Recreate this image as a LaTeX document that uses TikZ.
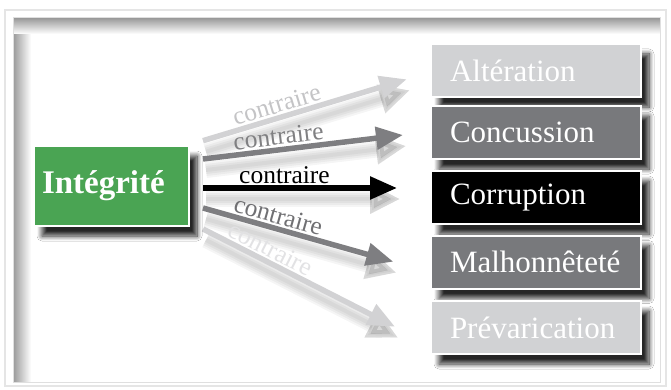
\documentclass[tikz,border=0pt]{standalone}
\usepackage{fontspec}
\setmainfont{Liberation Serif}
\usetikzlibrary{arrows.meta,shadows.blur,calc}

\definecolor{lgray}{RGB}{209,210,212}
\definecolor{dgray}{RGB}{120,121,124}
\definecolor{igreen}{RGB}{74,164,83}
\definecolor{arrl}{RGB}{210,210,212}
\definecolor{arrd}{RGB}{126,126,129}
\definecolor{labl}{RGB}{196,196,198}
\definecolor{labd}{RGB}{128,128,130}
\definecolor{labm}{RGB}{112,112,115}
\definecolor{labx}{RGB}{226,226,228}

\tikzset{
  box/.style={draw=white, line width=2pt, minimum width=210pt, minimum height=53pt,
    inner xsep=19pt, text width=172pt, align=left, text=white,
    font=\fontsize{31}{36}\selectfont,
    blur shadow={shadow xshift=8pt, shadow yshift=-10pt, shadow blur radius=5pt, shadow blur steps=10, shadow opacity=85}},
  mainbox/.style={draw=white, line width=2pt, minimum width=155pt, minimum height=80pt,
    inner xsep=8pt, text width=139pt, align=left, text=white, fill=igreen,
    font=\bfseries\fontsize{33}{38}\selectfont,
    blur shadow={shadow xshift=8pt, shadow yshift=-10pt, shadow blur radius=5pt, shadow blur steps=10, shadow opacity=85}},
  arr/.style={line width=5.5pt, -{Triangle[length=27pt,width=22pt]}},
  arrshad/.style={line width=#1, black, opacity=0.04, -{Triangle[length=30pt,width=28pt]}},
  lab/.style={sloped, anchor=base, inner sep=0pt, font=\fontsize{25.5}{30}\selectfont}
}

\newcommand\myshadow[2]{%
  \foreach \w in {4pt,8pt,12pt,16pt}{%
    \draw[arrshad=\w] ($(#1)+(3,11)$) -- ($(#2)+(3,11)$);}%
}

\begin{document}
\begin{tikzpicture}[x=1pt,y=-1pt]
\useasboundingbox (0,0) rectangle (671,390);
\fill[white] (0,0) rectangle (671,390);
% frame
\draw[gray!20, line width=1.5pt] (5,10) rectangle (666,386);
\fill[white] (13,18) rectangle (660,382);
\shade[left color=gray!80, right color=white] (13,18) rectangle (31,382);
\shade[top color=gray!80, bottom color=white] (13,18) rectangle (660,34);
\draw[gray!25, line width=1pt] (13,18) rectangle (660,382);

% arrow end points
\coordinate (s1) at (203,140.7); \coordinate (t1) at (406.7,79.3);
\coordinate (s2) at (203,159);   \coordinate (t2) at (403,135);
\coordinate (s3) at (203,188);   \coordinate (t3) at (397,188);
\coordinate (s4) at (203,208);   \coordinate (t4) at (393.3,261.7);
\coordinate (s5) at (203,229);   \coordinate (t5) at (395,326.7);

% shadows of arrows
\myshadow{s1}{t1}
\myshadow{s2}{t2}
\myshadow{s3}{t3}
\myshadow{s4}{t4}
\myshadow{s5}{t5}

% arrows
\draw[arr, arrl] (s1) -- node[lab, pos=0.38, text=labl] {\raisebox{5pt}{contraire}} (t1);
\draw[arr, arrd] (s2) -- node[lab, pos=0.385, text=labd] {\raisebox{5pt}{contraire}} (t2);
\draw[arr, black] (s3) -- node[lab, pos=0.42, text=black] {\raisebox{5pt}{contraire}} (t3);
\draw[arr, arrd] (s4) -- node[lab, pos=0.377, text=labm] {\raisebox{5pt}{contraire}} (t4);
\draw[arr, arrl] (s5) -- node[lab, pos=0.32, text=labx] {\raisebox{5pt}{contraire}} (t5);

% boxes
\node[mainbox] (int) at (111.5,186) {Intégrité};
\node[box, fill=lgray] (alt) at (536,70.5) {Altération};
\node[box, fill=dgray] (con) at (536,132.5) {Concussion};
\node[box, fill=black] (cor) at (536,197.5) {Corruption};
\node[box, fill=dgray] (mal) at (536,262) {Malhonnêteté};
\node[box, fill=lgray] (pre) at (536,327.5) {Prévarication};
\end{tikzpicture}
\end{document}
